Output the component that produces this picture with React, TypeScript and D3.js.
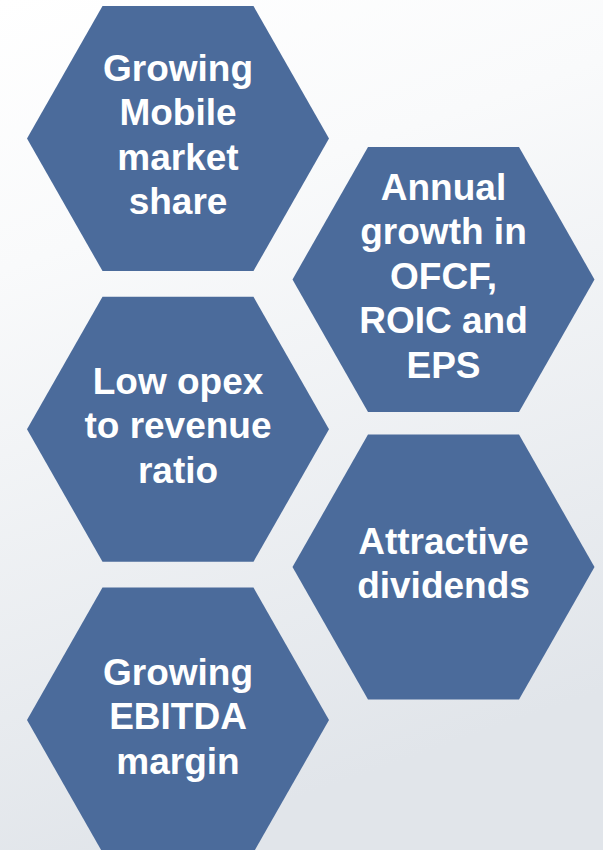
import React from "react";
import * as d3 from "d3";

const labels: string[][] = [
  ["Growing", "Mobile", "market", "share"],
  ["Annual", "growth in", "OFCF,", "ROIC and", "EPS"],
  ["Low opex", "to revenue", "ratio"],
  ["Attractive", "dividends"],
  ["Growing", "EBITDA", "margin"],
];
const columns: number[] = [0, 1, 0, 1, 0];
const slots: number[] = [0, 0, 1, 1, 2];

const W = 603;
const H = 850;

export default function App() {
  const xCol = d3.scaleOrdinal<number, number>().domain([0, 1]).range([178, 443.5]);
  const yLeft = d3.scaleLinear().domain([0, 2]).range([138.5, 720]);
  const yRight = d3.scaleLinear().domain([0, 1]).range([279.5, 567]);
  const rx = 151;
  const ry = 132.5;
  const line = d3.line<[number, number]>().curve(d3.curveLinearClosed);
  const hexPath = (cx: number, cy: number) =>
    line([
      [cx - rx, cy],
      [cx - rx / 2, cy - ry],
      [cx + rx / 2, cy - ry],
      [cx + rx, cy],
      [cx + rx / 2, cy + ry],
      [cx - rx / 2, cy + ry],
    ]) as string;
  const fs = 37;
  const lh = 44.5;
  return (
    <svg
      width={W}
      height={H}
      style={{ position: "absolute", left: 0, top: 0, display: "block" }}
    >
      <defs>
        <linearGradient id="bg" x1="0" y1="0" x2="0.25" y2="1">
          <stop offset="0" stopColor="#ffffff" />
          <stop offset="0.3" stopColor="#f9fafb" />
          <stop offset="1" stopColor="#e1e5ea" />
        </linearGradient>
      </defs>
      <rect x={0} y={0} width={W} height={H} fill="url(#bg)" />
      {labels.map((lines, i) => {
        const cx = xCol(columns[i]);
        const cy = columns[i] === 0 ? yLeft(slots[i]) : yRight(slots[i]);
        const n = lines.length;
        const base = cy + 9 - ((n - 1) / 2) * lh;
        return (
          <g key={i}>
            <path d={hexPath(cx, cy)} fill="#4b6b9b" />
            <text
              textAnchor="middle"
              fill="#ffffff"
              fontFamily="'Liberation Sans', Arial, sans-serif"
              fontWeight="bold"
              fontSize={fs}
            >
              {lines.map((t, j) => (
                <tspan key={j} x={cx} y={base + j * lh}>
                  {t}
                </tspan>
              ))}
            </text>
          </g>
        );
      })}
    </svg>
  );
}
